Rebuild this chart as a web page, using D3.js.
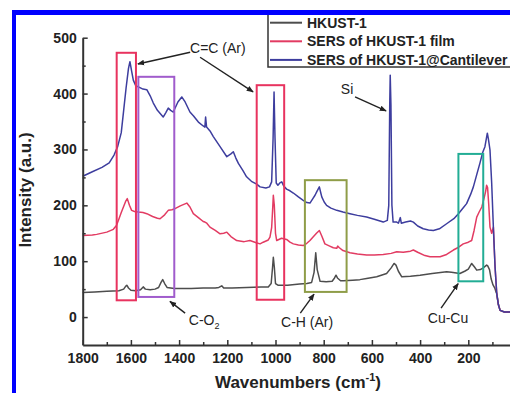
<!DOCTYPE html>
<html>
<head>
<meta charset="utf-8">
<script src="https://cdn.jsdelivr.net/npm/d3@7"></script>
<style>
  body { margin: 0; background: #fff; }
  svg { display: block; font-family: Arial, "Liberation Sans", sans-serif; }
</style>
</head>
<body>
<div class="chart-container"></div>
<script>
const totalWidth = 510;
const totalHeight = 393;

// series: wavenumbers (cm-1) and intensities (a.u.)
const hkustWn  = [1800,1750,1700,1650,1630,1622,1617,1610,1600,1580,1560,1549,1540,1520,1500,1485,1475,1468,1460,1450,1420,1400,1350,1300,1250,1235,1223,1215,1180,1120,1060,1030,1018,1012,1009,1005,1000,990,950,900,870,850,840,833,827,815,790,765,755,749,743,730,719,680,650,622,580,539,520,508,500,490,476,440,400,350,290,270,235,215,200,186,175,165,150,138,124,120,112,105,98,90,85,82,75,68,50,20];
const hkustInt = [44,45,46,47,50,55,57,52,48,47,49,54,50,49,50,53,62,67,60,53,51,51,51,52,52,53,56,52,52,53,54,54,60,90,107,90,60,57,57,59,60,62,80,115,85,64,63,64,70,75,70,65,65,66,67,69,72,78,88,96,93,82,72,73,75,78,81,80,78,82,86,96,90,84,85,88,93,92,85,68,58,52,45,42,22,12,9,9];

const filmWn  = [1800,1760,1742,1700,1673,1660,1652,1640,1631,1622,1615,1606,1597,1585,1569,1550,1534,1510,1490,1479,1460,1445,1430,1417,1395,1368,1355,1341,1320,1300,1293,1285,1272,1250,1230,1215,1202,1185,1161,1130,1106,1080,1064,1051,1030,1023,1016,1011,1009,1005,1000,995,975,954,940,926,905,885,870,857,845,830,818,808,795,775,760,746,742,735,720,691,660,622,590,553,520,497,470,440,428,410,380,359,317,290,262,240,221,200,186,176,165,155,144,135,128,124,120,115,110,103,96,89,82,75,68,50,20];
const filmInt = [146,147,148,152,157,164,173,187,197,207,212,200,191,189,188,187,185,180,177,176,183,191,192,194,199,204,197,185,178,171,170,168,161,155,149,150,152,144,137,135,137,133,131,134,138,143,160,200,218,200,150,137,141,139,134,131,129,128,132,137,143,150,155,145,131,127,124,123,127,124,119,115,113,111,111,112,114,117,116,118,120,116,110,108,108,112,120,125,131,134,137,155,179,188,197,212,225,236,232,200,161,150,161,90,42,22,12,9,9];

const cantWn  = [1800,1760,1720,1690,1670,1655,1640,1630,1620,1610,1604,1597,1590,1580,1569,1550,1534,1520,1507,1490,1466,1455,1445,1435,1424,1405,1389,1375,1355,1340,1320,1300,1293,1290,1286,1270,1258,1230,1202,1185,1175,1165,1154,1135,1120,1100,1078,1064,1040,1025,1016,1010,1006,1002,997,990,982,974,965,954,940,926,905,885,870,857,845,836,828,818,812,808,798,788,770,746,720,691,660,622,590,553,536,530,526,524,521,517,512,497,490,482,478,460,440,428,410,387,365,345,320,290,260,241,220,207,190,179,165,152,140,131,124,121,117,110,103,96,89,82,75,68,50,20];
const cantInt = [252,260,268,276,290,305,330,370,410,445,457,440,424,414,412,408,407,396,383,370,358,366,374,370,367,385,394,385,367,360,349,342,340,358,340,332,323,305,287,292,296,285,275,262,251,243,238,233,231,233,242,320,403,320,240,236,240,242,234,229,226,222,215,209,205,204,212,218,225,233,222,215,206,200,195,191,188,185,182,179,175,170,173,200,380,433,380,200,170,170,168,178,168,170,172,170,163,158,156,155,158,167,176,185,196,203,220,233,255,275,295,305,322,329,320,299,240,161,90,42,22,12,9,9];

const seriesNames = ['HKUST-1', 'SERS of HKUST-1 film', 'SERS of HKUST-1@Cantilever'];
const seriesColors = ['#4d4d4d', '#e23b62', '#3d3d9e'];

const yTicks = [0, 100, 200, 300, 400, 500];
const yMinor = [50, 150, 250, 350, 450];
const xTicks = [1800, 1600, 1400, 1200, 1000, 800, 600, 400, 200];
const xMinor = [1700, 1500, 1300, 1100, 900, 700, 500, 300, 100];

// highlight boxes: [wnFrom, wnTo, intLow, intHigh]
const boxes = [
  {r: [1659, 1579, 30, 473], color: '#e8335f'},
  {r: [1569, 1420, 36, 430], color: '#a05ccc'},
  {r: [1078, 964, 31, 415], color: '#e8335f'},
  {r: [878, 705, 45, 245], color: '#8f9d48'},
  {r: [241, 138, 64, 292], color: '#22ad95'}
];

// labels and arrows in data units
const labels = [
  {t: 'C=C (Ar)', wn: 1239, v: 481},
  {t: 'Si', wn: 703, v: 408},
  {t: 'C-O', sub: '2', wn: 1296, v: -6},
  {t: 'C-H (Ar)', wn: 869, v: -9},
  {t: 'Cu-Cu', wn: 284, v: -2}
];
const arrows = [
  [1354, 474, 1571, 453],
  [1313, 465, 1093, 403],
  [670, 394, 541, 369],
  [1375, 7, 1438, 28],
  [897, 7, 840, 41],
  [313, 16, 242, 60]
];

const svg = d3.select('.chart-container')
  .append('svg')
  .attr('width', totalWidth)
  .attr('height', totalHeight);

const x = d3.scaleLinear().domain([1800, 0]).range([82.7, 516.5]);
const y = d3.scaleLinear().domain([-50, 500]).range([345, 37.7]);

const defs = svg.append('defs');
defs.append('marker')
  .attr('id', 'arr')
  .attr('viewBox', '0 0 10 10')
  .attr('refX', 9).attr('refY', 5)
  .attr('markerWidth', 7).attr('markerHeight', 7)
  .attr('markerUnits', 'userSpaceOnUse')
  .attr('orient', 'auto')
  .append('path')
  .attr('d', 'M0,1 L10,5 L0,9 Z')
  .attr('fill', '#222');

// curves
const line = d3.line().x(d => x(d[0])).y(d => y(d[1]));
const seriesData = [
  d3.zip(hkustWn, hkustInt),
  d3.zip(filmWn, filmInt),
  d3.zip(cantWn, cantInt)
];
svg.append('g').selectAll('path')
  .data(seriesData)
  .enter()
  .append('path')
  .attr('d', line)
  .attr('fill', 'none')
  .attr('stroke', (d, i) => seriesColors[i])
  .attr('stroke-width', 1.5)
  .attr('stroke-linejoin', 'round');

// boxes
svg.append('g').selectAll('rect')
  .data(boxes)
  .enter()
  .append('rect')
  .attr('x', d => x(d.r[0]))
  .attr('y', d => y(d.r[3]))
  .attr('width', d => x(d.r[1]) - x(d.r[0]))
  .attr('height', d => y(d.r[2]) - y(d.r[3]))
  .attr('fill', 'none')
  .attr('stroke', d => d.color)
  .attr('stroke-width', 2);

// arrows
svg.append('g').selectAll('line')
  .data(arrows)
  .enter()
  .append('line')
  .attr('x1', d => x(d[0])).attr('y1', d => y(d[1]))
  .attr('x2', d => x(d[2])).attr('y2', d => y(d[3]))
  .attr('stroke', '#222')
  .attr('stroke-width', 1.4)
  .attr('marker-end', 'url(#arr)');

const lab = svg.append('g').selectAll('text')
  .data(labels)
  .enter()
  .append('text')
  .attr('x', d => x(d.wn))
  .attr('y', d => y(d.v))
  .attr('dy', '0.35em')
  .attr('text-anchor', 'middle')
  .attr('font-size', 14)
  .attr('fill', '#222')
  .text(d => d.t);
lab.filter(d => d.sub)
  .append('tspan')
  .attr('dy', 4)
  .attr('font-size', 9)
  .text(d => d.sub);

// axes
const axisStyle = g => {
  g.select('.domain').attr('stroke', '#333').attr('stroke-width', 2);
  g.selectAll('.tick line').attr('stroke', '#333').attr('stroke-width', 1.5);
  g.selectAll('.tick text')
    .attr('font-size', 14)
    .attr('font-weight', 'bold')
    .attr('fill', '#222')
    .attr('font-family', 'Arial, "Liberation Sans", sans-serif');
};
const fmt = d3.format('d');

svg.append('g')
  .attr('transform', `translate(${x(1800)},0)`)
  .call(d3.axisLeft(y).tickValues(yTicks).tickFormat(fmt).tickSize(-5).tickSizeOuter(0).tickPadding(6))
  .call(axisStyle);
svg.append('g')
  .attr('transform', `translate(${x(1800)},0)`)
  .call(d3.axisLeft(y).tickValues(yMinor).tickSize(-3).tickSizeOuter(0).tickFormat(''))
  .call(axisStyle)
  .select('.domain').remove();

svg.append('g')
  .attr('transform', `translate(0,${y(-50)})`)
  .call(d3.axisBottom(x).tickValues(xTicks).tickFormat(fmt).tickSize(-5).tickSizeOuter(0).tickPadding(8))
  .call(axisStyle);
svg.append('g')
  .attr('transform', `translate(0,${y(-50)})`)
  .call(d3.axisBottom(x).tickValues(xMinor).tickSize(-3).tickSizeOuter(0).tickFormat(''))
  .call(axisStyle)
  .select('.domain').remove();

// axis titles
const xt = svg.append('text')
  .attr('x', 298)
  .attr('y', 388)
  .attr('text-anchor', 'middle')
  .attr('font-size', 17)
  .attr('font-weight', 'bold')
  .attr('fill', '#222')
  .text('Wavenumbers (cm');
xt.append('tspan').attr('dy', -7).attr('font-size', 11).text('-1');
xt.append('tspan').attr('dy', 7).text(')');

svg.append('text')
  .attr('transform', 'translate(25,190) rotate(-90)')
  .attr('dy', '0.35em')
  .attr('text-anchor', 'middle')
  .attr('font-size', 17)
  .attr('font-weight', 'bold')
  .attr('fill', '#222')
  .text('Intensity (a.u.)');

// legend
const legend = svg.append('g').attr('transform', 'translate(268,12)');
legend.append('rect')
  .attr('width', 260).attr('height', 55)
  .attr('fill', '#fff')
  .attr('stroke', '#333')
  .attr('stroke-width', 1.5);
const items = legend.selectAll('g.item')
  .data(seriesNames)
  .enter()
  .append('g')
  .attr('class', 'item')
  .attr('transform', (d, i) => `translate(0,${10.7 + i * 18.6})`);
items.append('line')
  .attr('x1', 2).attr('x2', 34)
  .attr('stroke', (d, i) => seriesColors[i])
  .attr('stroke-width', 2);
items.append('text')
  .attr('x', 39)
  .attr('dy', '0.35em')
  .attr('font-size', 14)
  .attr('font-weight', 'bold')
  .attr('fill', '#222')
  .text(d => d);

// blue frame
svg.append('rect').attr('x', 12).attr('y', 10).attr('width', 498).attr('height', 5).attr('fill', '#0000ff');
svg.append('rect').attr('x', 12).attr('y', 10).attr('width', 4).attr('height', 383).attr('fill', '#0000ff');
</script>
</body>
</html>
